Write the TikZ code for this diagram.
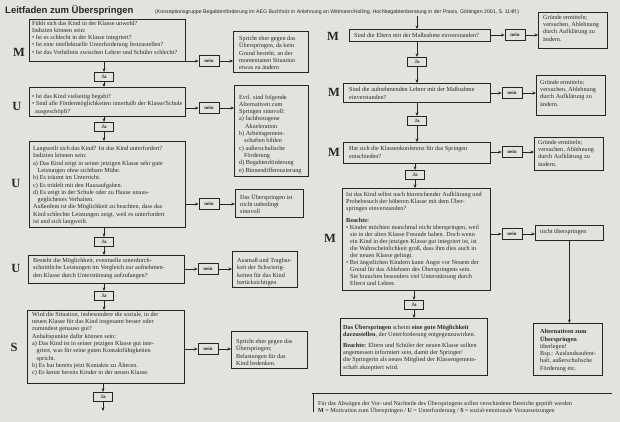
\documentclass[tikz,border=0pt]{standalone}
\usepackage{fontspec}
\usepackage{graphicx}
\setmainfont{Liberation Serif}
\newfontfamily\hsans{Liberation Sans}
\usetikzlibrary{arrows.meta}
\definecolor{bg}{RGB}{228,226,221}
\definecolor{ink}{RGB}{38,38,38}
\tikzset{
  boxx/.style={draw=ink, line width=0.8pt, inner sep=0pt, anchor=north west},
  txt/.style={anchor=west, align=left, inner sep=0pt, text=ink, font=\fontsize{6.2}{7.3}\selectfont},
  tighttxt/.style={txt, font=\fontsize{6.2}{7.0}\selectfont},
  neinbox/.style={draw=ink, line width=0.8pt, minimum width=20pt, minimum height=10.5pt, inner sep=0pt, text=ink, font=\fontsize{5}{5}\selectfont\bfseries},
  jabox/.style={draw=ink, line width=0.8pt, minimum width=19pt, minimum height=9.5pt, inner sep=0pt, text=ink, font=\fontsize{5}{5}\selectfont\bfseries},
  letter/.style={inner sep=0pt, text=ink, font=\fontsize{12.5}{13}\selectfont\bfseries},
  arr/.style={draw=ink, line width=0.7pt, -{Stealth[length=3.5pt,width=3pt]}}
}
\newcommand\mybox[5]{\node[boxx, minimum width={#4pt-#2pt}, minimum height={#5pt-#3pt}] (#1) at (#2,#3) {};}
\begin{document}
\begin{tikzpicture}[x=1pt,y=-1pt]
\fill[bg] (0,0) rectangle (620,422);
\useasboundingbox (0,0) rectangle (620,422);

% header
\node[anchor=base west, inner sep=0pt, text=ink, font=\hsans\fontsize{9.5}{10}\selectfont\bfseries] (title) at (5,13.5) {Leitfaden zum Überspringen};
\node[anchor=base west, inner sep=0pt, text=ink, font=\hsans\fontsize{5.2}{6}\selectfont] (sub) at (155,13.5) {(Konzeptionsgruppe Begabtenförderung im AEG Buchholz in Anlehnung an Wittmann/Holling, Hochbegabtenberatung in der Praxis, Göttingen 2001, S. 114ff.)};

% ---------------- left column
\node[letter] (l1) at (19,52) {M};
\node[letter] (l2) at (17,106) {U};
\node[letter] (l3) at (16,183) {U};
\node[letter] (l4) at (16,268) {U};
\node[letter] (l5) at (14,347) {S};

\mybox{b1}{29}{19}{185}{61}
\mybox{r1}{233}{31}{308}{72}
\node[neinbox] (n1) at (209,61) {nein};
\node[jabox] (j1) at (104,77) {Ja};
\mybox{b2}{29}{87}{185}{116}
\mybox{r2}{234}{85}{308}{176}
\node[neinbox] (n2) at (209,108) {nein};
\node[jabox] (j2) at (104,127) {Ja};
\mybox{b3}{29}{141}{185}{227}
\mybox{r3}{235}{189}{303}{217}
\node[neinbox] (n3) at (209,204) {nein};
\node[jabox] (j3) at (104,242) {Ja};
\mybox{b4}{28}{255}{184}{283}
\mybox{r4}{232}{251}{297}{287}
\node[neinbox] (n4) at (208,269) {nein};
\node[jabox] (j4) at (104,296) {Ja};
\mybox{b5}{27}{310}{184}{383}
\mybox{r5}{231}{331}{307}{368}
\node[neinbox] (n5) at (208,349) {nein};
\node[jabox] (j5) at (103,397) {Ja};
\coordinate (endL) at (103,411);

\node[txt] (t1) at (32,37.5) {Fühlt sich das Kind in der Klasse unwohl?\\Indizien können sein:\\• Ist es schlecht in der Klasse integriert?\\• Ist eine intellektuelle Unterforderung festzustellen?\\• Ist das Verhältnis zwischen Lehrer und Schüler schlecht?};
\node[txt] (tr1) at (239,53) {Spricht eher gegen das\\Überspringen, da kein\\Grund besteht, an der\\momentanen Situation\\etwas zu ändern};
\node[txt] (t2) at (32,104.5) {• Ist das Kind vielseitig begabt?\\• Sind alle Fördermöglichkeiten innerhalb der Klasse/Schule\\\hspace*{3pt}ausgeschöpft?};
\node[txt] (tr2) at (239,134) {Evtl. sind folgende\\Alternativen zum\\Springen sinnvoll:\\a) fachbezogene\\\hspace*{6pt}Akzeleration\\b) Arbeitsgemein-\\\hspace*{5pt}schaften bilden\\c) außerschulische\\\hspace*{5pt}Förderung\\d) Begabtenförderung\\e) Binnendifferenzierung};
\node[txt] (t3) at (33,185.5) {Langweilt sich das Kind? Ist das Kind unterfordert?\\Indizien können sein:\\a) Das Kind zeigt in seiner jetzigen Klasse sehr gute\\\hspace*{4.5pt}Leistungen ohne sichtbare Mühe.\\b) Es träumt im Unterricht.\\c) Es trödelt mit den Hausaufgaben.\\d) Es zeigt in der Schule oder zu Hause unaus-\\\hspace*{4.5pt}geglichenes Verhalten.\\Außerdem ist die Möglichkeit zu beachten, dass das\\Kind schlechte Leistungen zeigt, weil es unterfordert\\ist und sich langweilt.};
\node[txt] (tr3) at (240,204) {Das Überspringen ist\\nicht unbedingt\\sinnvoll};
\node[txt] (t4) at (33,268.5) {Besteht die Möglichkeit, eventuelle unterdurch-\\schnittliche Leistungen im Vergleich zur aufnehmen-\\den Klasse durch Unterstützung aufzufangen?};
\node[txt] (tr4) at (237,272) {Ausmaß und Tragbar-\\keit der Schwierig-\\keiten für das Kind\\berücksichtigen};
\node[txt] (t5) at (32,344) {Wird die Situation, insbesondere die soziale, in der\\neuen Klasse für das Kind insgesamt besser oder\\zumindest genauso gut?\\Anhaltspunkte dafür können sein:\\a) Das Kind ist in seiner jetzigen Klasse gut inte-\\\hspace*{4.5pt}griert, was für seine guten Kontaktfähigkeiten\\\hspace*{4.5pt}spricht.\\b) Es hat bereits jetzt Kontakte zu Älteren.\\c) Es kennt bereits Kinder in der neuen Klasse.};
\node[txt] (tr5) at (236,352.5) {Spricht eher gegen das\\Überspringen;\\Belastungen für das\\Kind bedenken.};

% left connectors
\foreach \b/\n/\r in {b1/n1/r1,b2/n2/r2,b3/n3/r3,b4/n4/r4,b5/n5/r5}{
  \draw[arr] (\b.east |- \n.west) -- (\n.west);
  \draw[arr] (\n.east) -- (\n.east -| \r.west);
}
\foreach \b/\j/\c in {b1/j1/b2,b2/j2/b3,b3/j3/b4,b4/j4/b5}{
  \draw[arr] (\b.south -| \j.north) -- (\j.north);
  \draw[arr] (\j.south) -- (\j.south |- \c.north);
}
\draw[arr] (b5.south -| j5.north) -- (j5.north);
\draw[arr] (j5.south) -- (endL);

% ---------------- right column
\coordinate (topR) at (417,16);
\node[letter] (m1) at (333,36) {M};
\node[letter] (m2) at (334,92) {M};
\node[letter] (m3) at (334,152) {M};
\node[letter] (m4) at (330,238) {M};

\mybox{R1}{349}{29}{490}{41}
\mybox{S1}{538}{12}{607}{48}
\node[neinbox] (N1) at (515,35) {nein};
\node[jabox] (J1) at (417,62) {Ja};
\mybox{R2}{343}{83}{490}{102}
\mybox{S2}{536}{75}{605}{115}
\node[neinbox] (N2) at (512,93) {nein};
\node[jabox] (J2) at (417,121) {Ja};
\mybox{R3}{343}{142}{490}{163}
\mybox{S3}{534}{137}{603}{170}
\node[neinbox] (N3) at (512,152) {nein};
\node[jabox] (J3) at (415,175) {Ja};
\mybox{R4}{342}{188}{490}{290}
\mybox{S4}{535}{225}{603}{240}
\node[neinbox] (N4) at (512,234) {nein};
\node[jabox] (J4) at (414,305) {Ja};
\mybox{R5}{340}{318}{487}{375}
\mybox{ALT}{533}{323}{602}{375}

\node[txt] (u1) at (354,35) {Sind die Eltern mit der Maßnahme einverstanden?};
\node[txt] (v1) at (543,28) {Gründe ermitteln;\\versuchen, Ablehnung\\durch Aufklärung zu\\ändern.};
\node[txt] (u2) at (349,93.5) {Sind die aufnehmenden Lehrer mit der Maßnahme\\einverstanden?};
\node[txt] (v2) at (540,93) {Gründe ermitteln;\\versuchen, Ablehnung\\durch Aufklärung zu\\ändern.};
\node[txt] (u3) at (349,152.5) {Hat sich die Klassenkonferenz für das Springen\\entschieden?};
\node[txt] (v3) at (538,153) {Gründe ermitteln;\\versuchen, Ablehnung\\durch Aufklärung zu\\ändern.};
\node[tighttxt] (u4) at (346,239) {Ist das Kind selbst nach hinreichender Aufklärung und\\Probebesuch der höheren Klasse mit dem Über-\\springen einverstanden?\\[5.5pt]\textbf{Beachte:}\\• Kinder möchten manchmal nicht überspringen, weil\\\hspace*{4pt}sie in der alten Klasse Freunde haben. Doch wenn\\\hspace*{4pt}ein Kind in der jetzigen Klasse gut integriert ist, ist\\\hspace*{4pt}die Wahrscheinlichkeit groß, dass ihm dies auch in\\\hspace*{4pt}der neuen Klasse gelingt.\\• Bei ängstlichen Kindern kann Angst vor Neuem der\\\hspace*{4pt}Grund für das Ablehnen des Überspringens sein.\\\hspace*{4pt}Sie brauchen besonders viel Unterstützung durch\\\hspace*{4pt}Eltern und Lehrer.};
\node[txt] (v4) at (540,232) {nicht überspringen};
\node[txt] (u5) at (343,347.5) {\textbf{Das Überspringen} scheint \textbf{eine gute Möglichkeit}\\\textbf{darzustellen}, der Unterforderung entgegenzuwirken.\\[3pt]\textbf{Beachte:} Eltern und Schüler der neuen Klasse sollten\\angemessen informiert sein, damit der Springer/\\die Springerin als neues Mitglied der Klassengemein-\\schaft akzeptiert wird.};
\node[txt] (v5) at (540,350.5) {\textbf{Alternativen zum}\\\textbf{Überspringen}\\überlegen!\\Bsp.: Auslandsaufent-\\halt, außerschulische\\Förderung etc.};

% right connectors
\draw[arr] (topR) -- (topR |- R1.north);
\foreach \b/\n/\r in {R1/N1/S1,R2/N2/S2,R3/N3/S3,R4/N4/S4}{
  \draw[arr] (\b.east |- \n.west) -- (\n.west);
  \draw[arr] (\n.east) -- (\n.east -| \r.west);
}
\foreach \b/\j/\c in {R1/J1/R2,R2/J2/R3,R3/J3/R4,R4/J4/R5}{
  \draw[arr] (\b.south -| \j.north) -- (\j.north);
  \draw[arr] (\j.south) -- (\j.south |- \c.north);
}
\draw[arr] (S4.south) -- (S4.south |- ALT.north);

% footer
\draw[ink, line width=0.7pt] (312,393) -- (612,393);
\draw[ink, line width=0.6pt] (313,393) -- (313,412);
\node[anchor=base west, inner sep=0pt, text=ink, font=\fontsize{6}{6.5}\selectfont] (f1) at (318,405) {Für das Abwägen der Vor- und Nachteile des Überspringens sollen verschiedene Bereiche geprüft werden};
\node[anchor=base west, inner sep=0pt, text=ink, font=\fontsize{6}{6.5}\selectfont] (f2) at (318,412.5) {\textbf{M} = Motivation zum Überspringen / \textbf{U} = Unterforderung / \textbf{S} = sozial-emotionale Voraussetzungen};
\end{tikzpicture}
\end{document}
